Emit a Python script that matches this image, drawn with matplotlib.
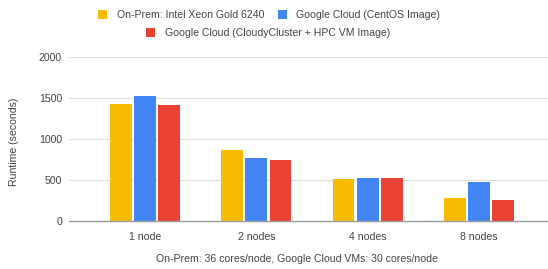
import matplotlib
matplotlib.use("Agg")
import matplotlib.pyplot as plt
import numpy as np
from matplotlib.patches import Patch

categories = ["1 node", "2 nodes", "4 nodes", "8 nodes"]
series_names = ["On-Prem: Intel Xeon Gold 6240",
                "Google Cloud (CentOS Image)",
                "Google Cloud (CloudyCluster + HPC VM Image)"]
onprem = [1430, 864, 517, 279]
gcp_centos = [1519, 772, 529, 481]
gcp_hpc = [1410, 748, 527, 258]
yticks = [0, 500, 1000, 1500, 2000]
colors = ["#F9BB04", "#4285F4", "#EA4335"]

plt.rcParams['font.family'] = ['Liberation Sans', 'DejaVu Sans']
text_color = "#444444"
fs = 7.6

W, H = 548, 269
fig = plt.figure(figsize=(W / 100, H / 100), dpi=100)
ax = fig.add_axes([69 / W, 1 - 221 / H, 1 - 69 / W, (221 - 57) / H])

x = np.arange(len(categories))
bw = 0.195
step = 0.218
for i, (vals, c) in enumerate(zip([onprem, gcp_centos, gcp_hpc], colors)):
    ax.bar(x + (i - 1) * step, vals, width=bw, color=c, zorder=3, label=series_names[i])

ax.set_xlim(-0.683, 3.62)
ax.set_ylim(0, 2000)
ax.set_yticks(yticks)
ax.set_yticklabels([str(v) for v in yticks])
ax.set_xticks(x)
ax.set_xticklabels(categories)
ax.tick_params(axis='both', length=0, labelsize=fs, colors=text_color)
ax.tick_params(axis='y', pad=5)
ax.tick_params(axis='x', pad=8)
ax.grid(axis='y', color="#e0e0e0", linewidth=0.8, zorder=0)
for s in ['top', 'right', 'left']:
    ax.spines[s].set_visible(False)
ax.spines['bottom'].set_color("#999999")
ax.spines['bottom'].set_linewidth(1.0)
ax.spines['bottom'].set_zorder(4)

fig.text(14 / W, 1 - 142 / H, "Runtime (seconds)", rotation=90, ha='center', va='center',
         fontsize=fs, color=text_color)
fig.text(297 / W, 1 - 259 / H, "On-Prem: 36 cores/node, Google Cloud VMs: 30 cores/node",
         ha='center', va='center', fontsize=fs, color=text_color)

h = [Patch(facecolor=c) for c in colors]
leg_kw = dict(frameon=False, fontsize=fs, handlelength=0.85, handleheight=0.85,
              handletextpad=0.9, columnspacing=1.3, labelcolor=text_color,
              borderpad=0, borderaxespad=0)
fig.legend(h[:2], series_names[:2], ncol=2, loc='center', bbox_to_anchor=(269 / W, 1 - 15 / H), **leg_kw)
fig.legend(h[2:], series_names[2:], ncol=1, loc='center', bbox_to_anchor=(268 / W, 1 - 33 / H), **leg_kw)

fig.savefig("out.png", dpi=100)
